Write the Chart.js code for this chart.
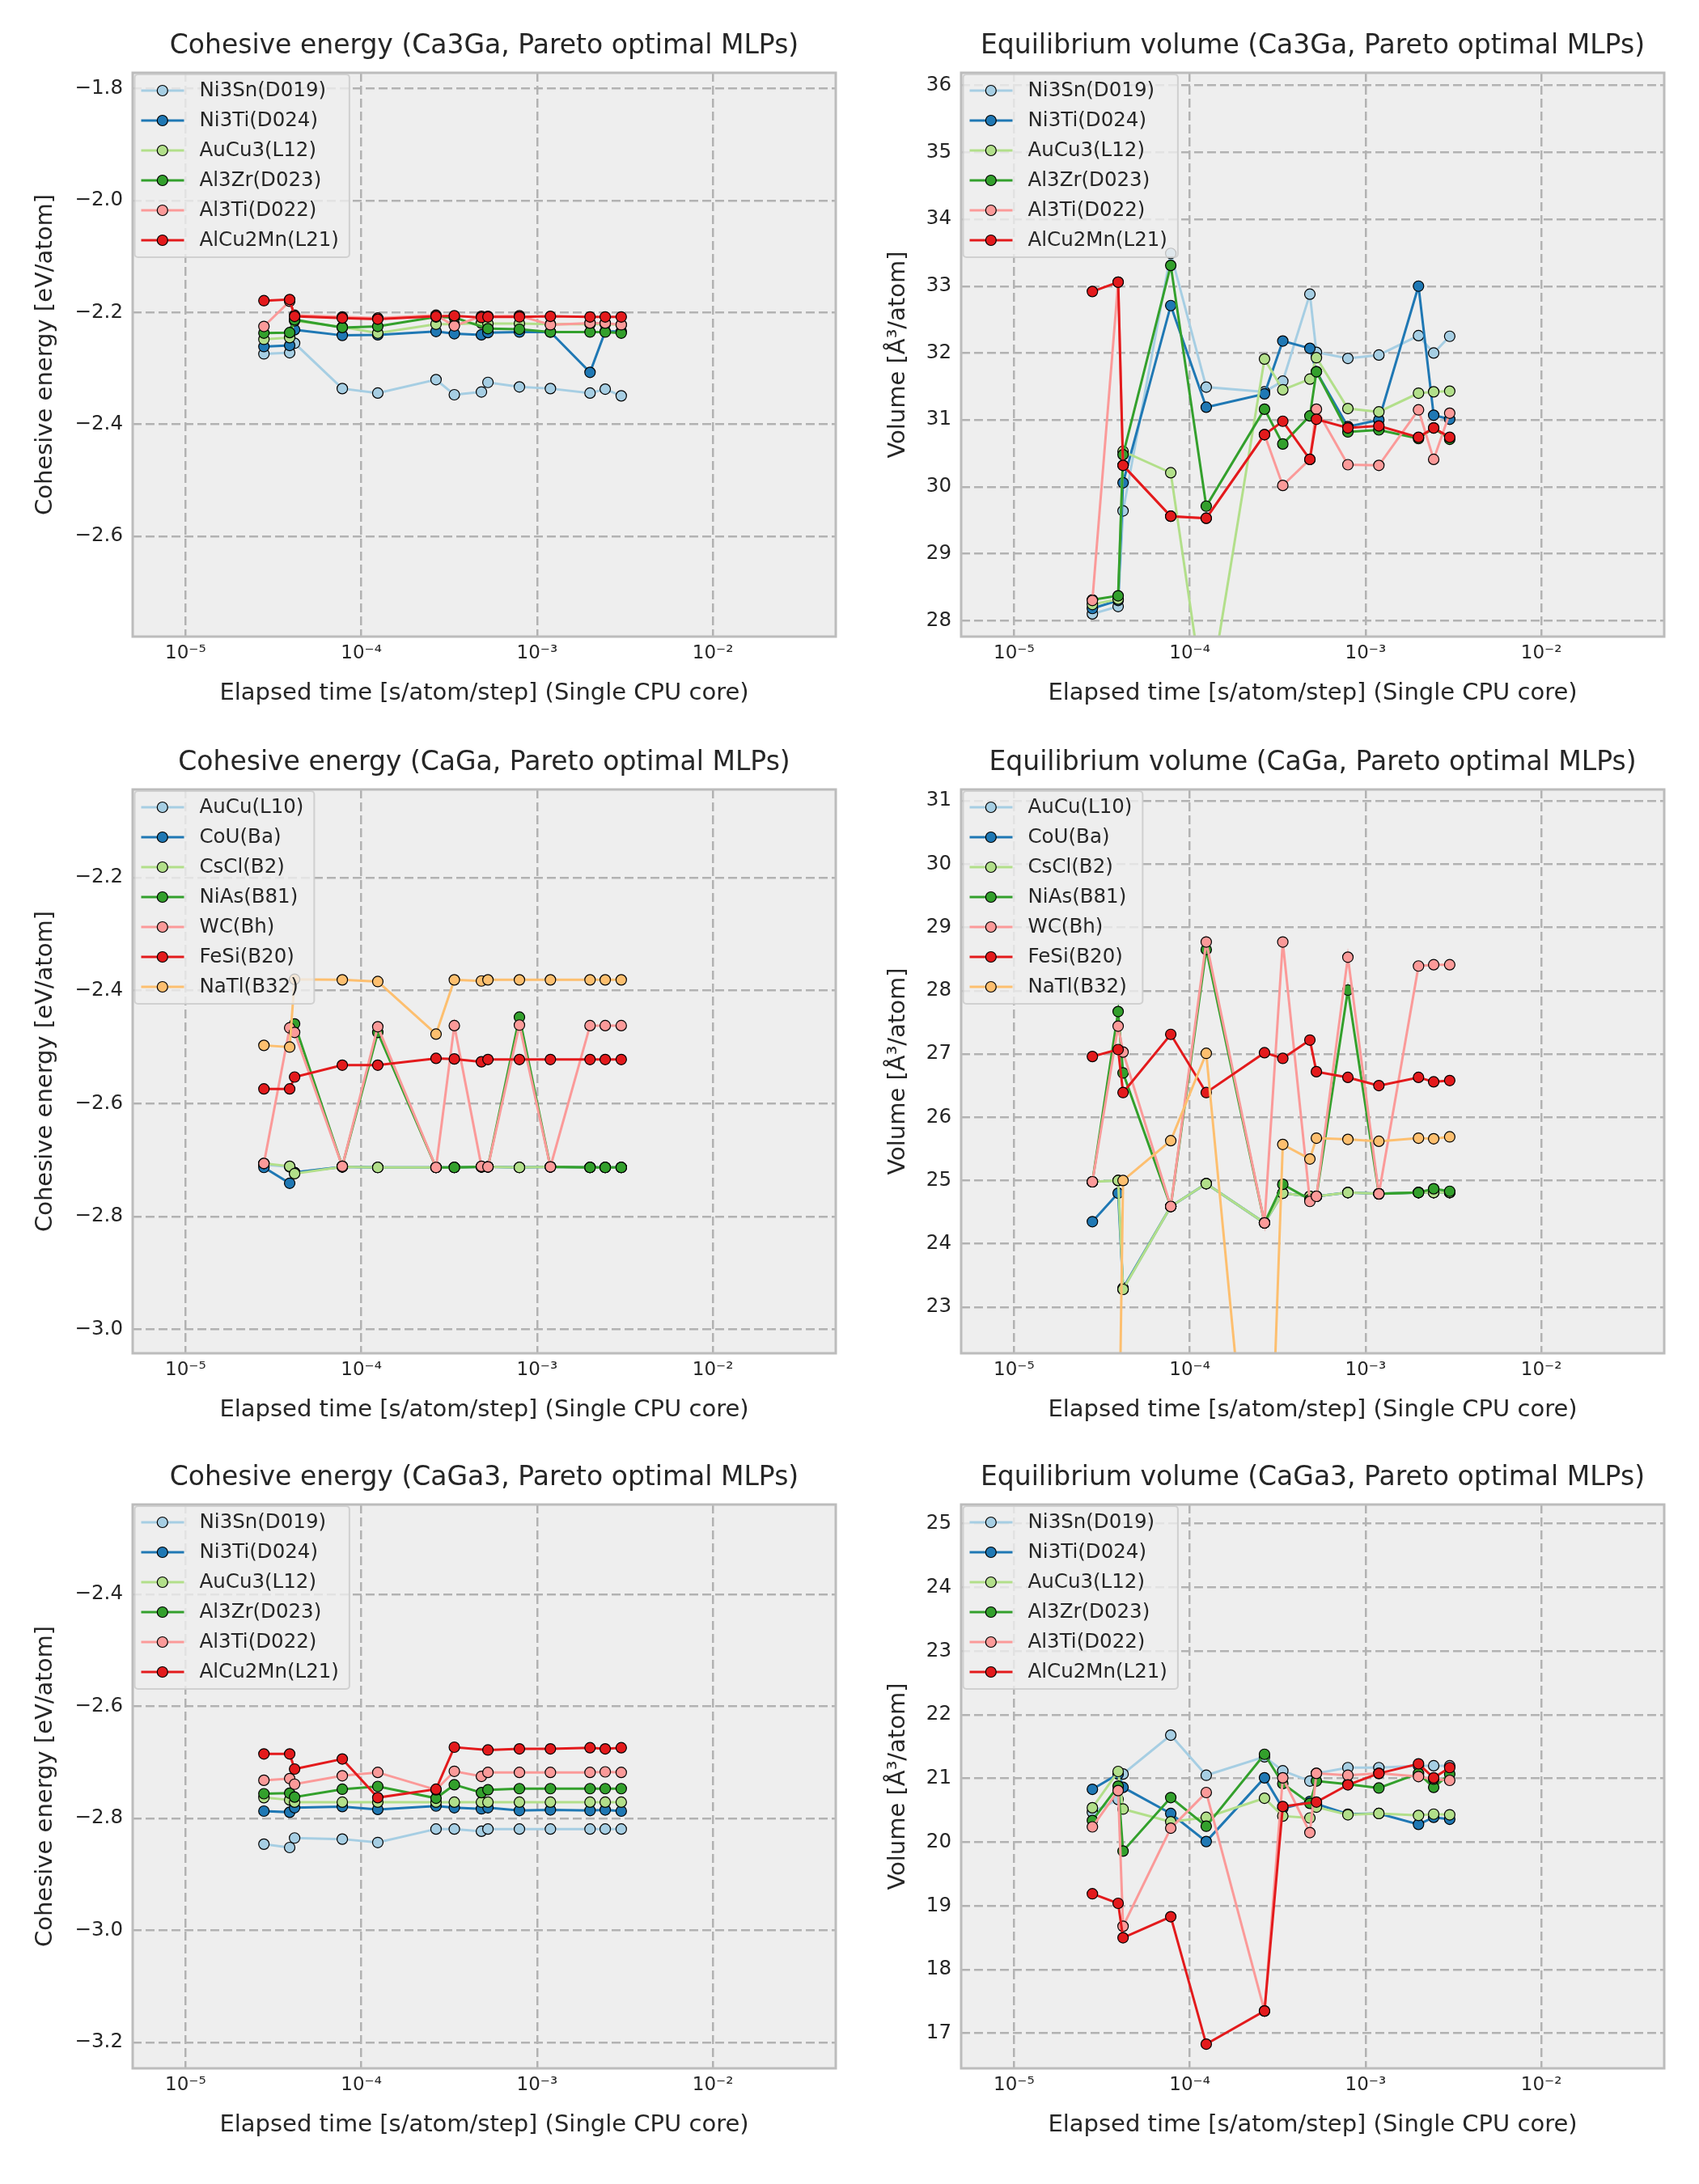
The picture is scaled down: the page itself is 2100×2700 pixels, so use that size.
<!DOCTYPE html>
<html lang="en">
<head>
<meta charset="UTF-8">
<script src="https://cdn.jsdelivr.net/npm/chart.js@4.4.0/dist/chart.umd.min.js"></script>
<title>Pareto optimal MLPs</title>
<style>
    body { margin: 0; background: #fff; width: 2100px; height: 2700px; position: relative; }
    canvas { position: absolute; }
</style>
</head>
<body>
<canvas id="e1" width="1060" height="886" style="left:0px;top:0px"></canvas>
<canvas id="v1" width="1040" height="886" style="left:1060px;top:0px"></canvas>
<canvas id="e2" width="1060" height="886" style="left:0px;top:886px"></canvas>
<canvas id="v2" width="1040" height="886" style="left:1060px;top:886px"></canvas>
<canvas id="e3" width="1060" height="886" style="left:0px;top:1770px"></canvas>
<canvas id="v3" width="1040" height="886" style="left:1060px;top:1770px"></canvas>

<script>
// elapsed time per MLP [s/atom/step], shared by all panels
const xTimes = [2.79e-5, 3.91e-5, 4.17e-5, 7.79e-5, 1.24e-4, 2.66e-4, 3.38e-4, 4.82e-4, 5.25e-4, 7.93e-4, 1.19e-3, 2.0e-3, 2.44e-3, 3.01e-3];
const xTickValues = [1e-5, 1e-4, 1e-3, 1e-2];
const xTickLabels = ['10⁻⁵', '10⁻⁴', '10⁻³', '10⁻²'];

const labelsA = ['Ni3Sn(D019)', 'Ni3Ti(D024)', 'AuCu3(L12)', 'Al3Zr(D023)', 'Al3Ti(D022)', 'AlCu2Mn(L21)'];
const labelsB = ['AuCu(L10)', 'CoU(Ba)', 'CsCl(B2)', 'NiAs(B81)', 'WC(Bh)', 'FeSi(B20)', 'NaTl(B32)'];
const colors = ['#a6cee3', '#1f78b4', '#b2df8a', '#33a02c', '#fb9a99', '#e31a1c', '#fdbf6f'];

// Ca3Ga cohesive energy [eV/atom]
const e1_Ni3Sn = [-2.274, -2.272, -2.255, -2.336, -2.344, -2.320, -2.347, -2.342, -2.325, -2.333, -2.336, -2.344, -2.337, -2.349];
const e1_Ni3Ti = [-2.261, -2.259, -2.231, -2.241, -2.240, -2.234, -2.238, -2.240, -2.236, -2.235, -2.235, -2.307, -2.234, -2.234];
const e1_AuCu3 = [-2.248, -2.245, -2.215, -2.226, -2.237, -2.221, -2.221, -2.219, -2.220, -2.220, -2.221, -2.221, -2.221, -2.222];
const e1_Al3Zr = [-2.237, -2.236, -2.213, -2.227, -2.225, -2.208, -2.209, null, -2.229, -2.230, -2.235, -2.235, -2.235, -2.237];
const e1_Al3Ti = [-2.225, -2.180, -2.205, -2.208, -2.210, -2.205, -2.224, -2.207, -2.207, -2.206, -2.222, -2.219, -2.219, -2.222];
const e1_AlCu2Mn = [-2.179, -2.177, -2.207, -2.210, -2.212, -2.207, -2.206, -2.209, -2.208, -2.208, -2.207, -2.208, -2.208, -2.208];

// Ca3Ga equilibrium volume [A^3/atom]
const v1_Ni3Sn = [28.10, 28.21, 29.64, 33.49, 31.49, 31.42, 31.58, 32.88, 32.01, 31.92, 31.97, 32.26, 32.00, 32.25];
const v1_Ni3Ti = [28.18, 28.30, 30.06, 32.71, 31.19, 31.39, 32.18, 32.07, 31.72, 30.90, 31.00, 33.00, 31.07, 31.01];
const v1_AuCu3 = [28.24, 28.32, 30.53, 30.21, 26.58, 31.91, 31.45, 31.61, 31.93, 31.17, 31.12, 31.40, 31.42, 31.43];
const v1_Al3Zr = [28.31, 28.37, 30.48, 33.31, 29.71, 31.16, 30.64, 31.06, 31.72, 30.82, 30.85, 30.72, 30.88, 30.71];
const v1_Al3Ti = [28.30, 33.06, 30.32, 29.56, 29.53, 30.78, 30.02, 30.41, 31.16, 30.33, 30.32, 31.15, 30.41, 31.10];
const v1_AlCu2Mn = [32.92, 33.06, 30.32, 29.56, 29.53, 30.78, 30.98, 30.41, 31.01, 30.88, 30.91, 30.74, 30.88, 30.74];

// CaGa cohesive energy
const e2_AuCu = [-2.708, -2.712, -2.722, -2.712, -2.713, -2.713, -2.713, -2.712, -2.712, -2.713, -2.712, -2.713, -2.713, -2.713];
const e2_CoU = [-2.713, -2.741, -2.722, -2.712, -2.713, -2.713, -2.713, -2.712, -2.712, -2.713, -2.712, -2.713, -2.713, -2.713];
const e2_CsCl = [-2.706, -2.711, -2.724, -2.712, -2.713, -2.713, -2.713, -2.712, -2.712, -2.713, -2.712, -2.713, -2.713, -2.713];
const e2_NiAs = [null, null, -2.459, -2.711, -2.474, -2.713, -2.713, -2.712, -2.712, -2.447, -2.712, -2.713, -2.713, -2.713];
const e2_WC = [-2.706, -2.466, -2.474, -2.711, -2.464, -2.713, -2.462, -2.711, -2.712, -2.461, -2.712, -2.462, -2.462, -2.462];
const e2_FeSi = [-2.574, -2.574, -2.553, -2.532, -2.532, -2.520, -2.521, -2.526, -2.522, -2.522, -2.522, -2.522, -2.522, -2.522];
const e2_NaTl = [-2.497, -2.500, -2.380, -2.381, -2.384, -2.477, -2.381, -2.383, -2.381, -2.381, -2.381, -2.381, -2.381, -2.381];

// CaGa equilibrium volume
const v2_AuCu = [24.98, 25.00, 23.28, 24.59, 24.95, 24.33, 24.80, 24.75, 24.75, 24.81, 24.79, 24.81, 24.81, 24.81];
const v2_CoU = [24.35, 24.80, 23.30, 24.59, 24.95, 24.33, 24.80, 24.75, 24.75, 24.81, 24.79, 24.81, 24.81, 24.81];
const v2_CsCl = [24.98, 25.00, 23.28, 24.59, 24.95, 24.33, 24.80, 24.75, 24.75, 24.81, 24.79, 24.81, 24.81, 24.81];
const v2_NiAs = [24.98, 27.67, 26.70, 24.59, 28.65, 24.33, 24.94, 24.70, 24.75, 28.01, 24.79, 24.81, 24.87, 24.83];
const v2_WC = [24.98, 27.44, 27.03, 24.59, 28.77, 24.33, 28.77, 24.67, 24.75, 28.53, 24.79, 28.39, 28.41, 28.41];
const v2_FeSi = [26.96, 27.07, 26.39, 27.31, 26.39, 27.02, 26.93, 27.22, 26.72, 26.63, 26.50, 26.63, 26.56, 26.58];
const v2_NaTl = [null, 19.7, 25.00, 25.63, 27.01, 17.4, 25.57, 25.34, 25.67, 25.65, 25.62, 25.67, 25.66, 25.69];

// CaGa3 cohesive energy
const e3_Ni3Sn = [-2.846, -2.852, -2.835, -2.837, -2.843, -2.819, -2.819, -2.823, -2.819, -2.819, -2.819, -2.819, -2.819, -2.819];
const e3_Ni3Ti = [-2.787, -2.789, -2.781, -2.779, -2.784, -2.778, -2.781, -2.783, -2.781, -2.786, -2.785, -2.786, -2.785, -2.787];
const e3_AuCu3 = [-2.763, -2.767, -2.771, -2.771, -2.771, -2.771, -2.771, -2.771, -2.771, -2.771, -2.771, -2.771, -2.771, -2.771];
const e3_Al3Zr = [-2.756, -2.755, -2.762, -2.748, -2.743, -2.764, -2.740, -2.754, -2.749, -2.747, -2.747, -2.747, -2.747, -2.747];
const e3_Al3Ti = [-2.732, -2.729, -2.739, -2.724, -2.718, -2.749, -2.716, -2.725, -2.718, -2.718, -2.718, -2.718, -2.717, -2.718];
const e3_AlCu2Mn = [-2.685, -2.685, -2.712, -2.694, -2.763, -2.748, -2.673, null, -2.678, -2.676, -2.676, -2.674, -2.676, -2.674];

// CaGa3 equilibrium volume
const v3_Ni3Sn = [20.47, 20.67, 21.07, 21.68, 21.05, 21.34, 21.12, 20.96, 21.08, 21.17, 21.17, 21.20, 21.20, 21.20];
const v3_Ni3Ti = [20.83, 21.07, 20.86, 20.45, 20.01, 21.01, 20.53, 20.64, 20.60, 20.44, 20.45, 20.28, 20.39, 20.36];
const v3_AuCu3 = [20.54, 21.11, 20.52, 20.32, 20.39, 20.69, 20.41, 20.38, 20.55, 20.43, 20.45, 20.42, 20.44, 20.43];
const v3_Al3Zr = [20.34, 20.88, 19.86, 20.70, 20.25, 21.38, 20.92, 20.61, 20.96, 20.91, 20.85, 21.08, 20.86, 21.07];
const v3_Al3Ti = [20.24, 20.81, 18.68, 20.22, 20.78, 17.35, 21.01, 20.15, 21.08, 21.05, 21.08, 21.03, 20.99, 20.97];
const v3_AlCu2Mn = [19.19, 19.04, 18.50, 18.83, 16.83, 17.35, 20.56, null, 20.63, 20.90, 21.08, 21.23, 21.01, 21.17];

// y tick values
const eTicks1 = [-2.6, -2.4, -2.2, -2.0, -1.8];
const vTicks1 = [28, 29, 30, 31, 32, 33, 34, 35, 36];
const eTicks2 = [-3.0, -2.8, -2.6, -2.4, -2.2];
const vTicks2 = [23, 24, 25, 26, 27, 28, 29, 30, 31];
const eTicks3 = [-3.2, -3.0, -2.8, -2.6, -2.4];
const vTicks3 = [17, 18, 19, 20, 21, 22, 23, 24, 25];

const FONT = '"DejaVu Sans", sans-serif';
const TXT = '#262626';
Chart.defaults.font.family = FONT;
Chart.defaults.color = TXT;

const deco = {
    id: 'deco',
    beforeDraw(chart) {
        const a = chart.chartArea, ctx = chart.ctx;
        ctx.save();
        ctx.fillStyle = '#eeeeee';
        ctx.fillRect(a.left, a.top, a.right - a.left, a.bottom - a.top);
        ctx.restore();
    },
    afterDatasetsDraw(chart, args, opts) {
        const a = chart.chartArea, ctx = chart.ctx;
        ctx.save();
        // frame
        ctx.strokeStyle = '#bcbcbc';
        ctx.lineWidth = 3;
        ctx.strokeRect(a.left, a.top, a.right - a.left, a.bottom - a.top);
        // title
        ctx.fillStyle = TXT;
        ctx.font = '33px ' + FONT;
        ctx.textAlign = 'center';
        ctx.textBaseline = 'middle';
        ctx.fillText(opts.title, (a.left + a.right) / 2, a.top - 33);
        // legend
        const ds = chart.data.datasets;
        ctx.font = '24.5px ' + FONT;
        let tw = 0;
        ds.forEach(d => { tw = Math.max(tw, ctx.measureText(d.label).width); });
        const bx = a.left + 2.5, by = a.top + 2;
        const bw = 80 + tw + 13, bh = 37 * ds.length + 4;
        ctx.beginPath();
        ctx.roundRect(bx, by, bw, bh, 4);
        ctx.fillStyle = 'rgba(238,238,238,0.8)';
        ctx.fill();
        ctx.strokeStyle = 'rgba(204,204,204,0.9)';
        ctx.lineWidth = 2;
        ctx.stroke();
        ds.forEach((d, i) => {
            const cy = by + 20 + 37 * i;
            ctx.strokeStyle = d.borderColor;
            ctx.lineWidth = 3;
            ctx.beginPath();
            ctx.moveTo(bx + 8, cy);
            ctx.lineTo(bx + 61, cy);
            ctx.stroke();
            ctx.beginPath();
            ctx.arc(bx + 34.3, cy, 6.5, 0, Math.PI * 2);
            ctx.fillStyle = d.borderColor;
            ctx.fill();
            ctx.lineWidth = 1.2;
            ctx.strokeStyle = '#000';
            ctx.stroke();
            ctx.fillStyle = TXT;
            ctx.textAlign = 'left';
            ctx.textBaseline = 'middle';
            ctx.fillText(d.label, bx + 80, cy + 1);
        });
        ctx.restore();
    }
};

function panel(id, title, yTitle, series, labels, yMin, yMax, yTicks, digits, axisW, yTitlePad) {
    const datasets = series.map((s, i) => ({
        label: labels[i],
        data: xTimes.map((x, j) => ({ x: x, y: s[j] })).filter(p => p.y !== null),
        borderColor: colors[i],
        backgroundColor: colors[i],
        pointBackgroundColor: colors[i],
        pointBorderColor: '#000',
        pointBorderWidth: 1.2,
        pointRadius: 6.5,
        borderWidth: 3,
        tension: 0,
        order: series.length - i
    }));
    const gridStyle = { color: '#b2b2b2', lineWidth: 2.5, drawTicks: false };
    const borderStyle = { display: false, dash: [11, 5] };
    new Chart(document.getElementById(id), {
        type: 'line',
        data: { datasets: datasets },
        plugins: [deco],
        options: {
            responsive: false,
            animation: false,
            devicePixelRatio: 1,
            layout: { padding: { left: 0, right: id[0] === 'e' ? 27 : 43, top: 90, bottom: 0 } },
            plugins: {
                legend: { display: false },
                tooltip: { enabled: false },
                deco: { title: title }
            },
            scales: {
                x: {
                    type: 'logarithmic',
                    min: 5e-6,
                    max: 5e-2,
                    afterBuildTicks: s => { s.ticks = xTickValues.map(v => ({ value: v })); },
                    afterFit: s => { s.height = 99; },
                    ticks: {
                        autoSkip: false,
                        maxRotation: 0,
                        padding: 7,
                        font: { size: 23 },
                        callback: (v, i) => xTickLabels[i]
                    },
                    grid: gridStyle,
                    border: borderStyle,
                    title: {
                        display: true,
                        text: 'Elapsed time [s/atom/step] (Single CPU core)',
                        font: { size: 29 },
                        padding: { top: 0, bottom: 11 }
                    }
                },
                y: {
                    type: 'linear',
                    min: yMin,
                    max: yMax,
                    afterBuildTicks: s => { s.ticks = yTicks.map(v => ({ value: v })); },
                    afterFit: s => { s.width = axisW; },
                    ticks: {
                        padding: 12,
                        font: { size: 24.5 },
                        callback: v => v.toFixed(digits).replace('-', '\u2212')
                    },
                    grid: gridStyle,
                    border: borderStyle,
                    title: {
                        display: true,
                        text: yTitle,
                        font: { size: 29 },
                        padding: { top: yTitlePad, bottom: 0 }
                    }
                }
            }
        }
    });
}

const eLabel = 'Cohesive energy [eV/atom]';
const vLabel = 'Volume [Å³/atom]';

panel('e1', 'Cohesive energy (Ca3Ga, Pareto optimal MLPs)', eLabel,
    [e1_Ni3Sn, e1_Ni3Ti, e1_AuCu3, e1_Al3Zr, e1_Al3Ti, e1_AlCu2Mn], labelsA, -2.779, -1.772, eTicks1, 1, 164, 39);
panel('v1', 'Equilibrium volume (Ca3Ga, Pareto optimal MLPs)', vLabel,
    [v1_Ni3Sn, v1_Ni3Ti, v1_AuCu3, v1_Al3Zr, v1_Al3Ti, v1_AlCu2Mn], labelsA, 27.76, 36.19, vTicks1, 0, 128, 33);
panel('e2', 'Cohesive energy (CaGa, Pareto optimal MLPs)', eLabel,
    [e2_AuCu, e2_CoU, e2_CsCl, e2_NiAs, e2_WC, e2_FeSi, e2_NaTl], labelsB, -3.042, -2.044, eTicks2, 1, 164, 39);
panel('v2', 'Equilibrium volume (CaGa, Pareto optimal MLPs)', vLabel,
    [v2_AuCu, v2_CoU, v2_CsCl, v2_NiAs, v2_WC, v2_FeSi, v2_NaTl], labelsB, 22.27, 31.18, vTicks2, 0, 128, 33);
panel('e3', 'Cohesive energy (CaGa3, Pareto optimal MLPs)', eLabel,
    [e3_Ni3Sn, e3_Ni3Ti, e3_AuCu3, e3_Al3Zr, e3_Al3Ti, e3_AlCu2Mn], labelsA, -3.246, -2.240, eTicks3, 1, 164, 39);
panel('v3', 'Equilibrium volume (CaGa3, Pareto optimal MLPs)', vLabel,
    [v3_Ni3Sn, v3_Ni3Ti, v3_AuCu3, v3_Al3Zr, v3_Al3Ti, v3_AlCu2Mn], labelsA, 16.45, 25.30, vTicks3, 0, 128, 33);
</script>
</body>
</html>
